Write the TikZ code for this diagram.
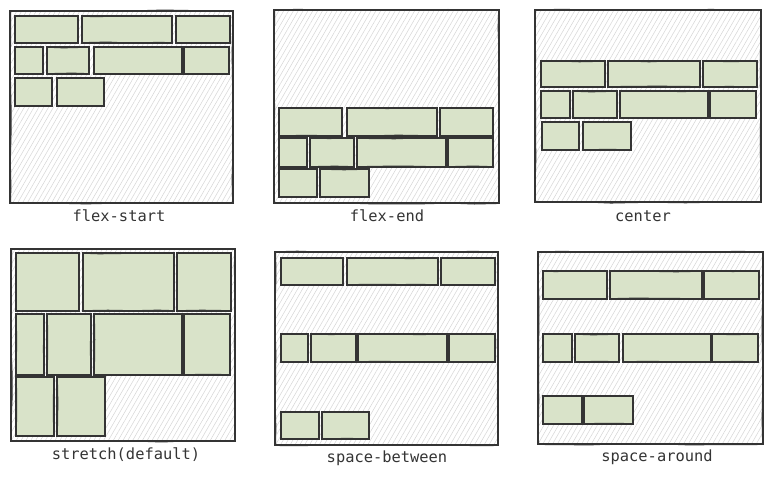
\documentclass[tikz,border=0pt]{standalone}
\usepackage{fontspec}
\setmonofont{DejaVu Sans Mono}
\usetikzlibrary{patterns.meta,decorations.pathmorphing}
\definecolor{itemfill}{RGB}{217,227,201}
\definecolor{stroke}{RGB}{52,52,52}
\definecolor{hatch}{RGB}{214,214,214}
\tikzset{
  panel/.style={draw=stroke,line width=1.3pt,fill=white},
  panelhatch/.style={pattern={Lines[angle=60,distance=4.2pt,line width=0.5pt]},pattern color=hatch},
  itm/.style={draw=stroke,line width=1.2pt,fill=itemfill},
  itmsketch/.style={draw=stroke,line width=0.5pt,decorate,decoration={random steps,segment length=25pt,amplitude=0.6pt}},
  lbl/.style={font=\ttfamily\fontsize{15.4}{17}\selectfont,text=stroke,inner sep=0pt}
}
\newcommand\pnl[4]{%
  \path[panel] (#1,#2) rectangle (#3,#4);
  \path[panelhatch] (#1,#2) rectangle (#3,#4);
  \draw[itmsketch] (#1+0.8,#2-0.5) rectangle (#3-0.6,#4+0.7);
  \draw[panel,fill=none] (#1,#2) rectangle (#3,#4);}
\newcommand\itm[4]{%
  \path[itm] (#1,#2) rectangle (#3,#4);
  \draw[itmsketch] (#1+0.6,#2+0.5) rectangle (#3-0.5,#4-0.6);}
\begin{document}
\begin{tikzpicture}[x=1pt,y=-1pt]
\pgfmathsetseed{7}
\useasboundingbox[fill=white] (0,0) rectangle (772,477);
% ---- flex-start
\pnl{10}{11}{233}{203}
\itm{15}{16}{78}{43}\itm{82}{16}{172}{43}\itm{176}{16}{230}{43}
\itm{15}{47}{43}{74}\itm{47}{47}{89}{74}\itm{94}{47}{182}{74}\itm{184}{47}{229}{74}
\itm{15}{78}{52}{106}\itm{57}{78}{104}{106}
\node[lbl] (l1) at (119,216) {flex-start};
% ---- flex-end
\pnl{274}{10}{499}{203}
\itm{279}{108}{342}{136}\itm{347}{108}{437}{136}\itm{440}{108}{493}{136}
\itm{279}{138}{307}{167}\itm{310}{138}{354}{167}\itm{357}{138}{446}{167}\itm{448}{138}{493}{167}
\itm{279}{169}{317}{197}\itm{320}{169}{369}{197}
\node[lbl] (l2) at (387,216) {flex-end};
% ---- center
\pnl{535}{10}{761}{202}
\itm{541}{61}{605}{87}\itm{608}{61}{700}{87}\itm{703}{61}{757}{87}
\itm{541}{91}{570}{118}\itm{573}{91}{617}{118}\itm{620}{91}{708}{118}\itm{710}{91}{756}{118}
\itm{542}{122}{579}{150}\itm{583}{122}{631}{150}
\node[lbl] (l3) at (643,216) {center};
% ---- stretch
\pnl{11}{249}{235}{441}
\itm{16}{253}{79}{311}\itm{83}{253}{174}{311}\itm{177}{253}{231}{311}
\itm{16}{314}{44}{375}\itm{47}{314}{91}{375}\itm{94}{314}{182}{375}\itm{184}{314}{230}{375}
\itm{16}{377}{54}{436}\itm{57}{377}{105}{436}
\node[lbl] (l4) at (126,455) {stretch(default)};
% ---- space-between
\pnl{275}{252}{498}{445}
\itm{281}{258}{343}{285}\itm{347}{258}{438}{285}\itm{441}{258}{495}{285}
\itm{281}{334}{308}{362}\itm{311}{334}{356}{362}\itm{358}{334}{447}{362}\itm{449}{334}{495}{362}
\itm{281}{412}{319}{439}\itm{322}{412}{369}{439}
\node[lbl] (l5) at (387,458) {space-between};
% ---- space-around
\pnl{538}{252}{763}{444}
\itm{543}{271}{607}{299}\itm{610}{271}{702}{299}\itm{704}{271}{759}{299}
\itm{543}{334}{572}{362}\itm{575}{334}{619}{362}\itm{623}{334}{711}{362}\itm{712}{334}{758}{362}
\itm{543}{396}{582}{424}\itm{584}{396}{633}{424}
\node[lbl] (l6) at (657,457) {space-around};
\end{tikzpicture}
\end{document}
